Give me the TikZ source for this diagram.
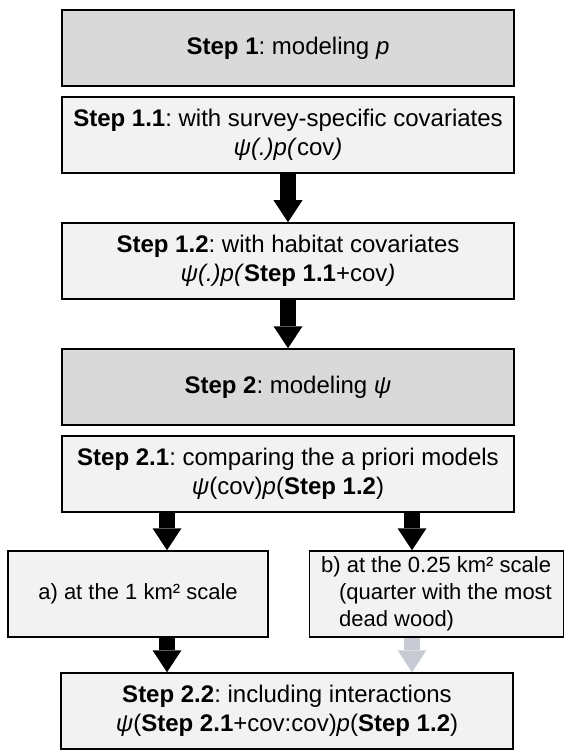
\documentclass[tikz,border=0pt]{standalone}
\usepackage{fontspec}
\setmainfont{Liberation Sans}
\usepackage{tikz}
\usetikzlibrary{arrows.meta}
\frenchspacing

\definecolor{headgray}{HTML}{D9D9D9}
\definecolor{boxgray}{HTML}{F2F2F2}
\definecolor{fadearrow}{HTML}{C8CBD3}

\tikzset{
  stepbox/.style={draw=black, line width=1.5pt, fill=boxgray, minimum width=452pt, minimum height=76pt, inner sep=2pt, align=center, font=\fontsize{24}{29}\selectfont},
  headbox/.style={stepbox, fill=headgray},
  scalebox/.style={stepbox, minimum height=86pt, font=\fontsize{22}{27}\selectfont},
  fatarrow/.style={line width=16pt, -{Triangle[width=29pt,length=22pt,line width=0pt]}},
}

\begin{document}
\begin{tikzpicture}[x=1pt,y=-1pt]
\useasboundingbox (0,0) rectangle (565,751);

% modeling p
\node[headbox] (s1) at (288,48) {\textbf{Step 1}: modeling \textit{p}};
\node[stepbox] (s11) at (288,135) {\textbf{Step 1.1}: with survey-specific covariates\\\textit{ψ(.)p(}cov\textit{)}};
\node[stepbox] (s12) at (288,261) {\textbf{Step 1.2}: with habitat covariates\\\textit{ψ(.)p(}\textbf{Step 1.1}+cov\textit{)}};

% modeling psi
\node[headbox] (s2) at (288,387) {\textbf{Step 2}: modeling \textit{ψ}};
\node[stepbox] (s21) at (288,474) {\textbf{Step 2.1}: comparing the a priori models\\\textit{ψ}(cov)\textit{p}(\textbf{Step 1.2})};

% the two scales
\node[scalebox, minimum width=260pt] (sa) at (138,594) {a) at the 1 km² scale};
\node[scalebox, minimum width=254pt, align=left] (sb) at (436.5,594) {b) at the 0.25 km² scale\\\hspace*{18pt}(quarter with the most\\\hspace*{18pt}dead wood)};

\node[stepbox] (s22) at (287,711) {\textbf{Step 2.2}: including interactions\\\textit{ψ}(\textbf{Step 2.1}+cov:cov)\textit{p}(\textbf{Step 1.2})};

% arrows
\coordinate (la) at (167,0);
\coordinate (ra) at (412,0);
\foreach \from/\to in {s11/s12, s12/s2}
\draw[fatarrow] (\from.south) -- (\to.north);
\draw[fatarrow] (s21.south -| la) -- (sa.north -| la);
\draw[fatarrow] (s21.south -| ra) -- (sb.north -| ra);
\draw[fatarrow] (sa.south -| la) -- (s22.north -| la);
\draw[fatarrow, fadearrow] (sb.south -| ra) -- (s22.north -| ra);
\end{tikzpicture}
\end{document}
